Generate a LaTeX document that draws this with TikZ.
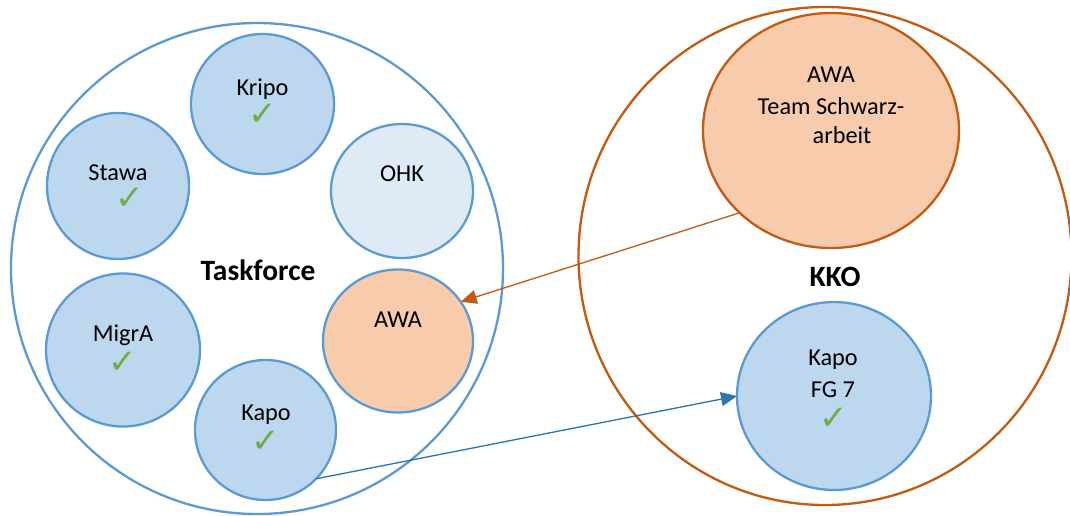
\documentclass[tikz,border=0pt]{standalone}
\usepackage{fontspec}
\setmainfont{Carlito}
\newfontfamily\checkfont{DejaVu Sans}
\usetikzlibrary{shapes.geometric,arrows.meta}
\definecolor{bluefill}{HTML}{BDD7EE}
\definecolor{lightfill}{HTML}{DEEBF7}
\definecolor{bluedraw}{HTML}{5B9BD5}
\definecolor{orangefill}{HTML}{F8CBAD}
\definecolor{orangedraw}{HTML}{C55A11}
\definecolor{arrowblue}{HTML}{2E75B6}
\definecolor{checkgreen}{HTML}{70AD47}
\begin{document}
\begin{tikzpicture}[x=1pt,y=-1pt,
  blob/.style={ellipse, inner sep=0pt, outer sep=0pt, line width=2.3pt},
  bluecirc/.style={blob, draw=bluedraw, fill=bluefill},
  lbl/.style={anchor=base, inner sep=0pt, font=\fontsize{24.3}{29}\selectfont},
  biglbl/.style={anchor=base, inner sep=0pt, font=\fontsize{29.5}{35}\selectfont\bfseries},
  tick/.style={inner sep=0pt, text=checkgreen, font=\checkfont\fontsize{34}{34}\selectfont},
  conn/.style={line width=1.3pt, -{Triangle[length=16pt,width=14pt]}}
]
\useasboundingbox[fill=white] (0,0) rectangle (1070,515);

% big groups
\node[blob, draw=bluedraw, minimum width=492pt, minimum height=491pt] (tf) at (257,268.5) {};
\node[blob, draw=orangedraw, minimum width=493pt, minimum height=498pt] (kko) at (825,256) {};

% Taskforce members
\node[bluecirc, minimum width=143pt, minimum height=140pt] (kripo) at (262.5,104) {};
\node[bluecirc, minimum width=142pt, minimum height=146pt] (stawa) at (118,186) {};
\node[blob, draw=bluedraw, fill=lightfill, minimum width=142pt, minimum height=134pt] (ohk) at (402,191) {};
\node[bluecirc, minimum width=154pt, minimum height=153pt] (migra) at (123,350) {};
\node[bluecirc, minimum width=141pt, minimum height=140pt] (kapo) at (265.5,430) {};
\node[blob, draw=bluedraw, fill=orangefill, minimum width=150pt, minimum height=143pt] (awaL) at (398,341) {};

% KKO members
\node[blob, draw=orangedraw, fill=orangefill, minimum width=256pt, minimum height=235pt] (awaR) at (831,130.5) {};
\node[bluecirc, minimum width=194pt, minimum height=188pt] (kapoFG) at (834,396) {};

% labels
\node[lbl] (tKripo) at (262.5,95) {Kripo};
\node[lbl] (tStawa) at (118,180) {Stawa};
\node[lbl] (tOHK) at (402,181) {OHK};
\node[lbl] (tMigrA) at (123,341) {MigrA};
\node[lbl] (tKapo) at (266,420) {Kapo};
\node[lbl] (tAwaL) at (398,327) {AWA};
\node[lbl] (tAwaR1) at (831,82) {AWA};
\node[lbl] (tAwaR2) at (831,114) {Team Schwarz-};
\node[lbl] (tAwaR3) at (842,143) {arbeit};
\node[lbl] (tKapoFG1) at (833,365) {Kapo};
\node[lbl] (tKapoFG2) at (833,397) {FG 7};
\node[biglbl] (tTF) at (258,280) {Taskforce};
\node[biglbl] (tKKO) at (835,286) {KKO};

% check marks
\node[tick] (cKripo) at (263,115) {✓};
\node[tick] (cStawa) at (130,199) {✓};
\node[tick] (cMigrA) at (123,363) {✓};
\node[tick] (cKapo) at (266,442) {✓};
\node[tick] (cKapoFG) at (834,419) {✓};

% connectors
\draw[conn, draw=orangedraw, fill=orangedraw] (awaR.222) -- (awaL.32);
\draw[conn, draw=arrowblue, fill=arrowblue] (kapo.-44) -- (kapoFG.180);
\end{tikzpicture}
\end{document}
